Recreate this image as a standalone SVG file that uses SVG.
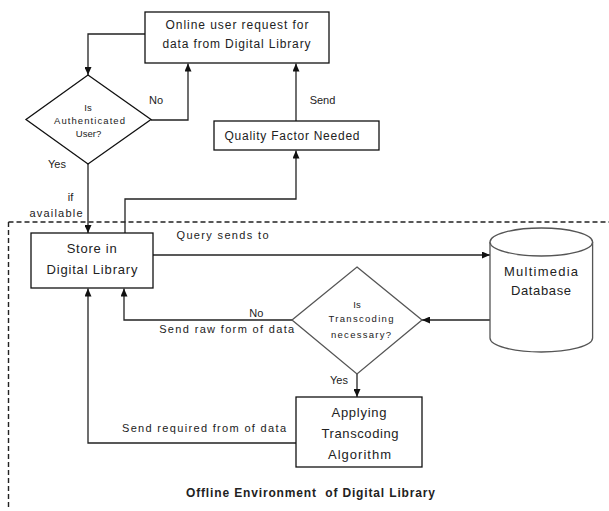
<svg xmlns="http://www.w3.org/2000/svg" width="609" height="511" viewBox="0 0 609 511">
<style>
text{font-family:"Liberation Sans",Arial,sans-serif;fill:#222;text-anchor:middle}
.t12{font-size:12px}
.t13{font-size:13px}
.t11{font-size:11px}
.sm{font-size:9.5px}
.box{fill:#fff;stroke:#111;stroke-width:1.3}
.g{fill:#fff;stroke:#555;stroke-width:1.3}
.c{fill:none;stroke:#222;stroke-width:1.3}
.d{fill:none;stroke:#222;stroke-width:1.4;stroke-dasharray:5,3}
</style>
<defs>
<marker id="ah" markerWidth="8" markerHeight="7" refX="8" refY="3.5" orient="auto" markerUnits="userSpaceOnUse">
<path d="M0,0 L8,3.5 L0,7 z" fill="#111"/>
</marker>
</defs>
<rect width="609" height="511" fill="#fff"/>
<g id="boundary">
<path class="d" d="M8.5,222 H609"/>
<path class="d" d="M8.5,222 V508"/>
</g>
<g id="connectors">
<path class="c" d="M145,34 H88 V75" marker-end="url(#ah)"/>
<path class="c" d="M151,120 H188 V63.5" marker-end="url(#ah)"/>
<path class="c" d="M88,164 V233" marker-end="url(#ah)"/>
<path class="c" d="M125,233 V199 H296 V150.5" marker-end="url(#ah)"/>
<path class="c" d="M296,121 V63.5" marker-end="url(#ah)"/>
<path class="c" d="M153,255 H490" marker-end="url(#ah)"/>
<path class="c" d="M490,320 H422" marker-end="url(#ah)"/>
<path class="c" d="M292,320 H124 V288.5" marker-end="url(#ah)"/>
<path class="c" d="M357,374 V397" marker-end="url(#ah)"/>
<path class="c" d="M296,443 H88 V288.5" marker-end="url(#ah)"/>
<text class="t11" x="156" y="104">No</text>
<text class="t11" x="322.5" y="104">Send</text>
<text class="t11" x="57" y="168">Yes</text>
<text class="t11" x="70.5" y="201">if</text>
<text class="t11" x="56" y="217" textLength="53" lengthAdjust="spacing">available</text>
<text class="t11" x="222.5" y="239" textLength="92" lengthAdjust="spacing">Query sends to</text>
<text class="t11" x="256.3" y="316.5">No</text>
<text class="t11" x="226.7" y="333" textLength="135" lengthAdjust="spacing">Send raw form of data</text>
<text class="t11" x="339" y="384">Yes</text>
<text class="t11" x="204" y="432" textLength="164" lengthAdjust="spacing">Send required from of data</text>
</g>
<g id="request">
<rect class="box" x="145" y="12" width="184" height="51"/>
<text class="t12" x="237" y="29" textLength="143" lengthAdjust="spacing">Online user request for</text>
<text class="t12" x="236.5" y="48" textLength="148" lengthAdjust="spacing">data from Digital Library</text>
</g>
<g id="auth">
<polygon class="box" points="88,75 151,119.5 88,164 26,119.5"/>
<text class="sm" x="88" y="111">Is</text>
<text class="sm" x="89.5" y="124" textLength="71" lengthAdjust="spacing">Authenticated</text>
<text class="sm" x="88.5" y="137">User?</text>
</g>
<g id="quality">
<rect class="box" x="214" y="121" width="165" height="29"/>
<text class="t12" x="292" y="139.5" textLength="135" lengthAdjust="spacing">Quality Factor Needed</text>
</g>
<g id="store">
<rect class="box" x="31" y="233" width="122" height="55"/>
<text class="t13" x="91.7" y="252.5" textLength="50" lengthAdjust="spacing">Store in</text>
<text class="t13" x="92" y="273.5" textLength="91" lengthAdjust="spacing">Digital Library</text>
</g>
<g id="database">
<path class="g" d="M490,242 V338 A51.3,14 0 0 0 592.6,338 V242"/>
<ellipse class="g" cx="541.3" cy="242" rx="51.3" ry="14"/>
<text class="t13" x="541" y="275.5" textLength="74" lengthAdjust="spacing">Multimedia</text>
<text class="t13" x="541" y="295" textLength="60" lengthAdjust="spacing">Database</text>
</g>
<g id="transcode-decision">
<polygon class="g" points="357,267 422,320 357,374 292,320"/>
<text class="sm" x="357" y="308">Is</text>
<text class="sm" x="361" y="322" textLength="65" lengthAdjust="spacing">Transcoding</text>
<text class="sm" x="361" y="338" textLength="60" lengthAdjust="spacing">necessary?</text>
</g>
<g id="applying">
<rect class="box" x="296" y="397" width="126" height="70"/>
<text class="t13" x="359" y="416.5" textLength="55" lengthAdjust="spacing">Applying</text>
<text class="t13" x="360" y="437.5" textLength="77" lengthAdjust="spacing">Transcoding</text>
<text class="t13" x="359.5" y="458.5" textLength="63" lengthAdjust="spacing">Algorithm</text>
</g>
<g id="caption">
<text x="310.5" y="497" style="font-size:12px;font-weight:bold;white-space:pre" textLength="249" lengthAdjust="spacing">Offline Environment  of Digital Library</text>
</g>
</svg>
